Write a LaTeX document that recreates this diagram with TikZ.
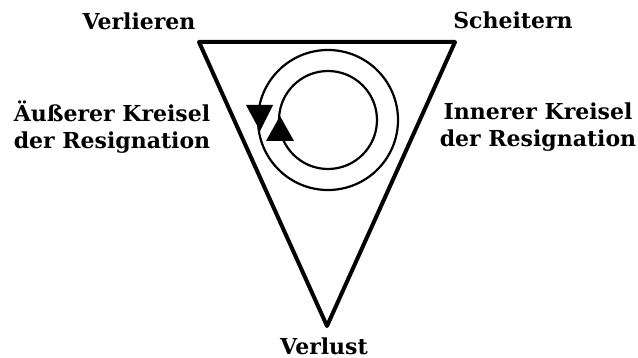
\documentclass[tikz,border=0pt]{standalone}
\usepackage{fontspec}
\setmainfont{DejaVu Serif}
\usepackage{tikz}

\begin{document}
\begin{tikzpicture}[x=1pt, y=-1pt]
  \tikzstyle{word} = [font=\bfseries\fontsize{22}{27}\selectfont, align=center, inner sep=0pt]
  \tikzstyle{edge} = [line width=4pt, line join=round]
  \tikzstyle{ring} = [line width=2.2pt]
  \tikzstyle{tip} = [fill=black]
  \useasboundingbox (0,0) rectangle (638,358);

  \coordinate (tl) at (199,42);
  \coordinate (tr) at (455,42);
  \coordinate (bot) at (327,326);
  \coordinate (mid) at (328,120);

  \draw [edge] (tl) -- (tr) -- (bot) -- cycle;
  \draw [ring] (mid) circle (70pt);
  \draw [ring] (mid) circle (49pt);
  % arrow heads on the rings
  \fill [tip] (246,105) -- (273,105) -- (260,131) -- cycle;
  \fill [tip] (266,141) -- (294,141) -- (280,116) -- cycle;

  \node (verlieren) [word] at (139,21) {Verlieren};
  \node (scheitern) [word] at (513,20) {Scheitern};
  \node (aussen) [word] at (112,127) {Äußerer Kreisel\\der Resignation};
  \node (innen) [word] at (538,127) {Innerer Kreisel\\der Resignation};
  \node (verlust) [word] at (324,346) {Verlust};
\end{tikzpicture}
\end{document}
